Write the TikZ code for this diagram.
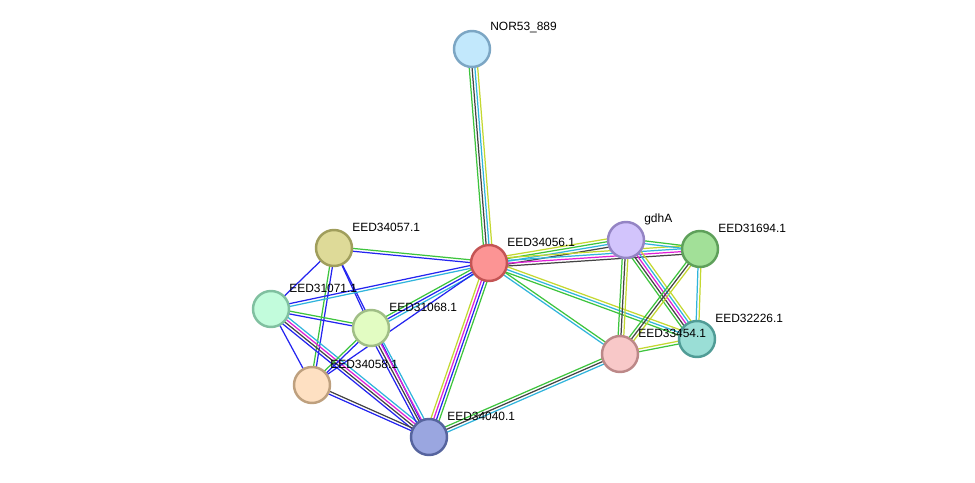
\documentclass[tikz,border=0pt]{standalone}
\usepackage{fontspec}
\setmainfont{Liberation Sans}
\usepackage{tikz}
\usetikzlibrary{calc,backgrounds}

\definecolor{strgreen}{HTML}{3DC43D}
\definecolor{strblue}{HTML}{2424F0}
\definecolor{strblack}{HTML}{444444}
\definecolor{strmagenta}{HTML}{E020D8}
\definecolor{strcyan}{HTML}{30B4DC}
\definecolor{stryellow}{HTML}{C4D830}

\definecolor{f53}{HTML}{C2E8FC}\definecolor{b53}{HTML}{7CA6C4}
\definecolor{f57}{HTML}{DEDA98}\definecolor{b57}{HTML}{A09E5C}
\definecolor{f56}{HTML}{FC9494}\definecolor{b56}{HTML}{C45454}
\definecolor{fgdh}{HTML}{D2C4FC}\definecolor{bgdh}{HTML}{9484C4}
\definecolor{f94}{HTML}{A2E098}\definecolor{b94}{HTML}{5EA05A}
\definecolor{f71}{HTML}{C2FCDC}\definecolor{b71}{HTML}{80C0A0}
\definecolor{f68}{HTML}{E2FCC2}\definecolor{b68}{HTML}{A0BE86}
\definecolor{f26}{HTML}{9ADED6}\definecolor{b26}{HTML}{509C96}
\definecolor{f54}{HTML}{F8C8C8}\definecolor{b54}{HTML}{BC8888}
\definecolor{f58}{HTML}{FEE0C2}\definecolor{b58}{HTML}{BEA07E}
\definecolor{f40}{HTML}{9AA6E0}\definecolor{b40}{HTML}{56649E}

% a bundle of parallel lines between two proteins
\newcommand{\strlink}[3]{%
  \gdef\nlines{0}%
  \foreach \c in {#3}{\pgfmathtruncatemacro\tmpn{\nlines+1}\xdef\nlines{\tmpn}}%
  \foreach \c [count=\i] in {#3}{%
    \pgfmathsetmacro\off{(\i-(\nlines+1)/2)*1.6}%
    \draw[\c, linkline] ($(#1)!\off pt!90:(#2)$) -- ($(#2)!\off pt!-90:(#1)$);
  }%
}

\tikzset{
  prot/.style={circle, minimum size=0.72cm, inner sep=0pt, line width=1.4pt},
  lbl/.style={font=\fontsize{6.8}{8}\selectfont, anchor=west, inner sep=0pt},
  linkline/.style={line width=0.7pt}
}

\begin{document}
\begin{tikzpicture}[x=0.02cm, y=-0.02cm]
		\useasboundingbox (0,0) rectangle (975,483);
		
		\node[prot, draw=b53, fill=f53](n53) at (472,49){};
		\node[prot, draw=b57, fill=f57](n57) at (334,248){};
		\node[prot, draw=b56, fill=f56](n56) at (489,263){};
		\node[prot, draw=bgdh, fill=fgdh](ngdh) at (626,240){};
		\node[prot, draw=b94, fill=f94](n94) at (700,249){};
		\node[prot, draw=b71, fill=f71](n71) at (271,309){};
		\node[prot, draw=b68, fill=f68](n68) at (371,328){};
		\node[prot, draw=b26, fill=f26](n26) at (697,339){};
		\node[prot, draw=b54, fill=f54](n54) at (620,354){};
		\node[prot, draw=b58, fill=f58](n58) at (312,385){};
		\node[prot, draw=b40, fill=f40](n40) at (429,437){};
		
		\begin{pgfonlayer}{background}
		\fill[white] (0,0) rectangle (975,483);
		
		\strlink{n53}{n56}{strgreen,strblack,strcyan,stryellow}
		
		\strlink{n57}{n56}{strblue,strgreen}
		\strlink{n57}{n71}{strblue}
		\strlink{n57}{n68}{strblue}
		\strlink{n57}{n40}{strblue}
		\strlink{n57}{n58}{strgreen,strblue}
		
		\strlink{n71}{n56}{strcyan,strblue}
		\strlink{n71}{n68}{strblue,strgreen}
		\strlink{n71}{n58}{strblue}
		\strlink{n71}{n40}{strblue,strblack,strmagenta,strcyan}
		
		\strlink{n68}{n56}{strcyan,strblue,strgreen}
		\strlink{n58}{n56}{strblue}
		\strlink{n58}{n68}{strblue,strgreen}
		\strlink{n68}{n40}{strblue,strblack,strmagenta,strcyan}
		\strlink{n58}{n40}{strblue,strblack}
		
		\strlink{n56}{n40}{stryellow,strmagenta,strblue,strgreen}
		\strlink{n56}{ngdh}{strblack,strcyan,strgreen,stryellow}
		\strlink{n56}{n94}{strblack,strmagenta,strcyan,stryellow}
		\strlink{n56}{n54}{strcyan,strgreen}
		\strlink{n56}{n26}{strgreen,strcyan,stryellow}
		
		\strlink{ngdh}{n94}{strcyan,strgreen}
		\strlink{ngdh}{n54}{strgreen,strblack,stryellow}
		\strlink{ngdh}{n26}{strgreen,strblack,strmagenta,strcyan,stryellow}
		\strlink{n94}{n54}{strgreen,strblack,stryellow}
		\strlink{n94}{n26}{strcyan,stryellow}
		\strlink{n54}{n26}{strgreen,stryellow}
		\strlink{n54}{n40}{strgreen,strblack,strcyan}
		\end{pgfonlayer}
		
		\node[lbl](l53) at ($(n53)+(18,-21)$){NOR53\_889};
		\node[lbl](l57) at ($(n57)+(18,-21)$){EED34057.1};
		\node[lbl](l56) at ($(n56)+(18,-21)$){EED34056.1};
		\node[lbl](lgdh) at ($(ngdh)+(18,-21)$){gdhA};
		\node[lbl](l94) at ($(n94)+(18,-21)$){EED31694.1};
		\node[lbl](l71) at ($(n71)+(18,-21)$){EED31071.1};
		\node[lbl](l68) at ($(n68)+(18,-21)$){EED31068.1};
		\node[lbl](l26) at ($(n26)+(18,-21)$){EED32226.1};
		\node[lbl](l54) at ($(n54)+(18,-21)$){EED33454.1};
		\node[lbl](l58) at ($(n58)+(18,-21)$){EED34058.1};
		\node[lbl](l40) at ($(n40)+(18,-21)$){EED34040.1};
\end{tikzpicture}
\end{document}
